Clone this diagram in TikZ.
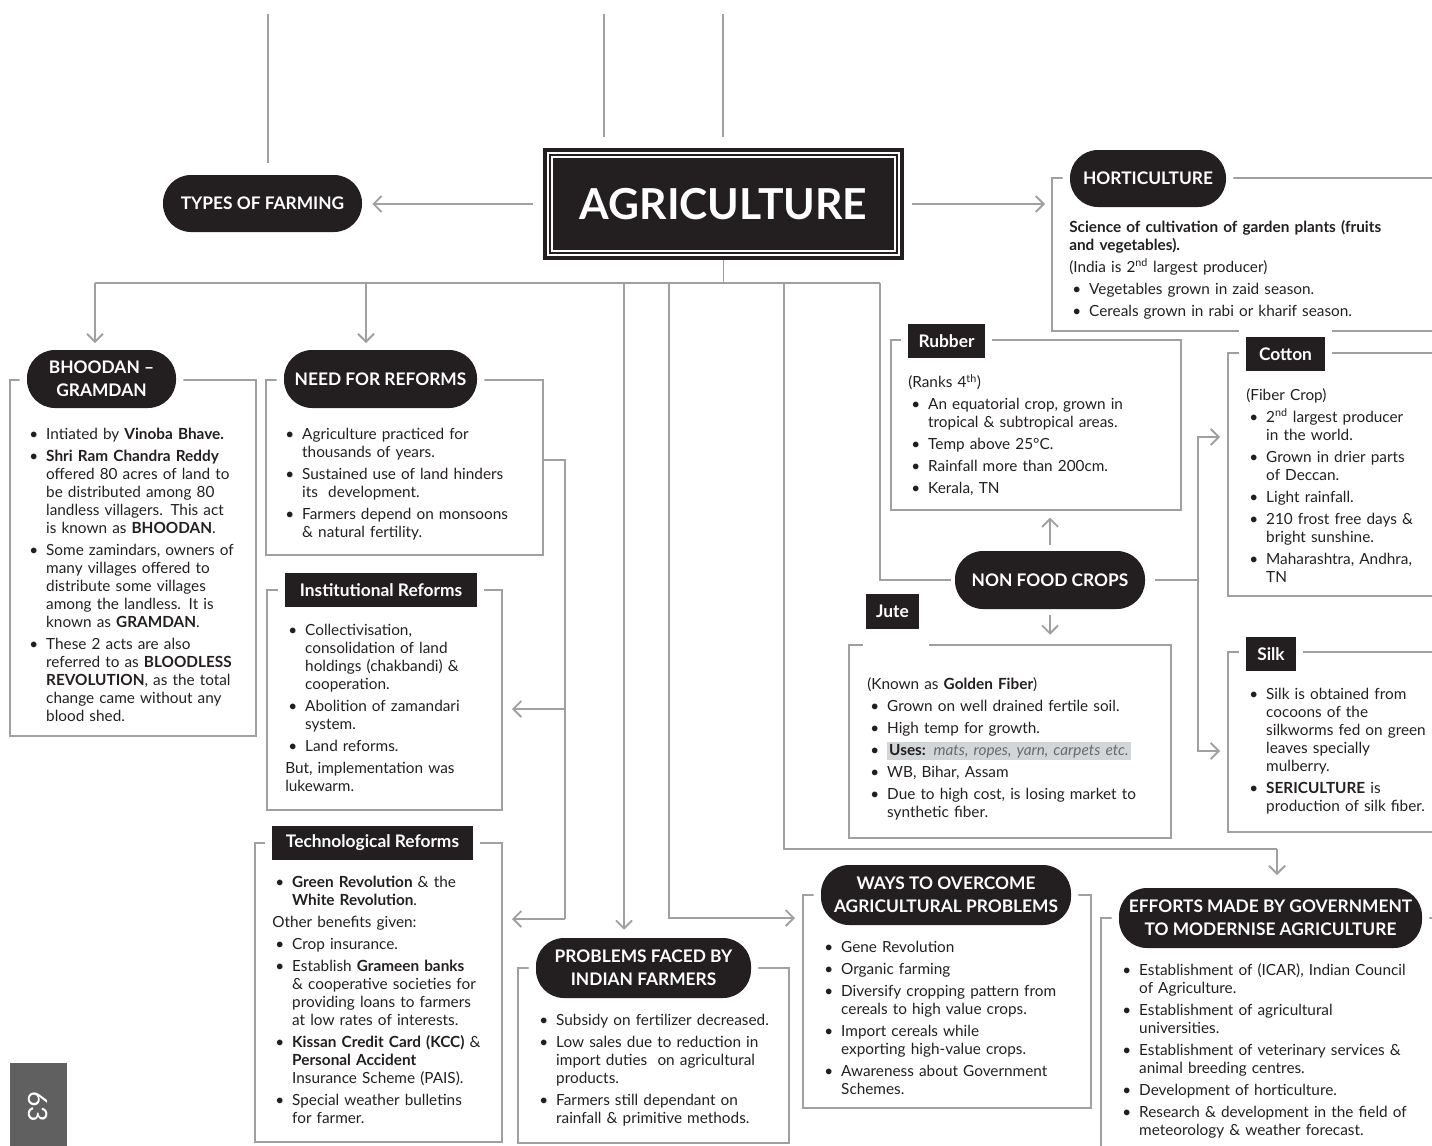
\documentclass[tikz,border=0pt]{standalone}
\usepackage{fontspec}
\setmainfont{Lato}
\usepackage{xcolor}
\usetikzlibrary{positioning}
\usetikzlibrary{fit}
\usetikzlibrary{arrows.meta}
\usetikzlibrary{calc}

\definecolor{inkblack}{RGB}{35,31,32}
\definecolor{linegray}{RGB}{160,160,160}
\definecolor{hlgray}{RGB}{211,214,217}
\definecolor{usegray}{RGB}{105,106,110}
\definecolor{pagegray}{RGB}{96,96,96}

\newcommand{\bulx}{\hangindent=1.3em\hangafter=1\noindent\makebox[1.3em][l]{\hspace{0.2em}\textbullet}}
\newcommand{\bul}{\par\bulx}
\newcommand{\plainline}{\par\noindent}

\tikzset{
  conn/.style={draw=linegray, line width=1.4pt},
  connarrow/.style={conn, -{Straight Barb[length=6pt,width=12pt]}},
  boxframe/.style={draw=linegray, line width=1.4pt, inner sep=0pt},
  pilltitle/.style={fill=inkblack, inner sep=0pt, rounded corners=21pt, preaction={draw=white, line width=11pt}},
  blacktag/.style={fill=inkblack, inner sep=0pt, preaction={draw=white, line width=11pt}},
  titletext/.style={text=white, inner sep=0pt, align=center, font=\bfseries\fontsize{13}{17}\selectfont},
  boxtext/.style={anchor=north west, inner sep=0pt, text=inkblack, align=left, text width=330pt,
    font=\fontsize{11.5}{13.5}\selectfont\setlength{\parskip}{3pt}},
}

\begin{document}
\begin{tikzpicture}[x=0.75pt,y=0.75pt,yscale=-1,xscale=1]
\useasboundingbox (0,0) rectangle (1432,1146);
\clip (0,0) rectangle (1432,1146);

%Frames
\node[boxframe, fit={(1052,178) (1445,331)}] (hortibox) {};
\node[boxframe, fit={(10,380) (256,736)}] (bhbox) {};
\node[boxframe, fit={(266,380) (543,555)}] (needbox) {};
\node[boxframe, fit={(267,590) (502,810)}] (instbox) {};
\node[boxframe, fit={(255,843) (502,1142)}] (techbox) {};
\node[boxframe, fit={(518,968) (789,1143)}] (probbox) {};
\node[boxframe, fit={(803,895) (1091,1108)}] (waysbox) {};
\node[boxframe, fit={(1101,918) (1445,1170)}] (effbox) {};
\node[boxframe, fit={(891,340) (1181,510)}] (rubbox) {};
\node[boxframe, fit={(1228,353) (1445,596)}] (cotbox) {};
\node[boxframe, fit={(849,645) (1171,838)}] (jutebox) {};
\node[boxframe, fit={(1228,652) (1445,832)}] (silkbox) {};
\draw[white, line width=3pt] (863,645) -- (929,645);

%Main box
\node[fill=inkblack, inner sep=0pt, fit={(543,148) (904,260)},
  label={[titletext, font=\bfseries\fontsize{32}{36}\selectfont]center:AGRICULTURE}] (agri) {};
\draw[white, line width=0.8pt] (548,153) rectangle (899,255);
\draw[white, line width=0.8pt] (552,157) rectangle (895,251);

%Titles
\node[pilltitle, fit={(163,175) (362,232)}, label={[titletext]center:TYPES OF FARMING}] (types) {};
\node[pilltitle, fit={(1070,150) (1226,207)}, label={[titletext]center:HORTICULTURE}] (horti) {};
\node[pilltitle, fit={(27,350) (176,408)}, label={[titletext]center:{BHOODAN –\\GRAMDAN}}] (bhtitle) {};
\node[pilltitle, fit={(284,350) (477,408)}, label={[titletext]center:NEED FOR REFORMS}] (needtitle) {};
\node[pilltitle, fit={(955,551) (1145,609)}, label={[titletext]center:NON FOOD CROPS}] (nfc) {};
\node[pilltitle, fit={(536,938) (751,998)}, label={[titletext]center:{PROBLEMS FACED BY\\INDIAN FARMERS}}] (probtitle) {};
\node[pilltitle, fit={(821,865) (1071,925)}, label={[titletext]center:{WAYS TO OVERCOME\\AGRICULTURAL PROBLEMS}}] (waystitle) {};
\node[pilltitle, fit={(1119,888) (1422,948)}, label={[titletext]center:{EFFORTS MADE BY GOVERNMENT\\TO MODERNISE AGRICULTURE}}] (efftitle) {};
\node[blacktag, fit={(908,324) (985,358)}, label={[titletext]center:Rubber}] (rubtag) {};
\node[blacktag, fit={(1246,337) (1325,371)}, label={[titletext]center:Cotton}] (cottag) {};
\node[blacktag, fit={(866,594) (919,629)}, label={[titletext]center:Jute}] (jutetag) {};
\node[blacktag, fit={(1246,637) (1296,671)}, label={[titletext]center:Silk}] (silktag) {};
\node[blacktag, fit={(285,573) (477,607)}, label={[titletext]center:Institutional Reforms}] (insttag) {};
\node[blacktag, fit={(272,826) (473,860)}, label={[titletext]center:Technological Reforms}] (techtag) {};

% Text Node
\node[boxtext] (hortitext) at (1069,220) {\textbf{Science of cultivation of garden plants (fruits\newline and vegetables).}
\plainline (India is 2\textsuperscript{nd} largest producer)
\bul Vegetables grown in zaid season.
\bul Cereals grown in rabi or kharif season.\par};
% Text Node
\node[boxtext] (bhtext) at (26,428) {\bulx Intiated by \textbf{Vinoba Bhave.}
\bul \textbf{Shri Ram Chandra Reddy}\newline offered 80 acres of land to\newline be distributed among 80\newline landless villagers. This act\newline is known as \textbf{BHOODAN}.
\bul Some zamindars, owners of\newline many villages offered to\newline distribute some villages\newline among the landless. It is\newline known as \textbf{GRAMDAN}.
\bul These 2 acts are also\newline referred to as \textbf{BLOODLESS}\newline \textbf{REVOLUTION}, as the total\newline change came without any\newline blood shed.\par};
% Text Node
\node[boxtext] (needtext) at (282,428) {\bulx Agriculture practiced for\newline thousands of years.
\bul Sustained use of land hinders\newline its~ development.
\bul Farmers depend on monsoons\newline \& natural fertility.\par};
% Text Node
\node[boxtext] (insttext) at (285,624) {\bulx Collectivisation,\newline consolidation of land\newline holdings (chakbandi) \&\newline cooperation.
\bul Abolition of zamandari\newline system.
\bul Land reforms.
\plainline But, implementation was\newline lukewarm.\par};
% Text Node
\node[boxtext] (techtext) at (272,876) {\bulx \textbf{Green Revolution} \& the\newline \textbf{White Revolution}.
\plainline Other benefits given:
\bul Crop insurance.
\bul Establish \textbf{Grameen banks}\newline \& cooperative societies for\newline providing loans to farmers\newline at low rates of interests.
\bul \textbf{Kissan Credit Card (KCC)} \&\newline \textbf{Personal Accident}\newline Insurance Scheme (PAIS).
\bul Special weather bulletins\newline for farmer.\par};
% Text Node
\node[boxtext] (probtext) at (536,1014) {\bulx Subsidy on fertilizer decreased.
\bul Low sales due to reduction in\newline import duties~ on agricultural\newline products.
\bul Farmers still dependant on\newline rainfall \& primitive methods.\par};
% Text Node
\node[boxtext] (waystext) at (821,941) {\bulx Gene Revolution
\bul Organic farming
\bul Diversify cropping pattern from\newline cereals to high value crops.
\bul Import cereals while\newline exporting high-value crops.
\bul Awareness about Government\newline Schemes.\par};
% Text Node
\node[boxtext] (efftext) at (1119,963) {\bulx Establishment of (ICAR), Indian Council\newline of Agriculture.
\bul Establishment of agricultural\newline universities.
\bul Establishment of veterinary services \&\newline animal breeding centres.
\bul Development of horticulture.
\bul Research \& development in the field of\newline meteorology \& weather forecast.\par};
% Text Node
\node[boxtext] (rubtext) at (908,374) {(Ranks 4\textsuperscript{th})
\bul An equatorial crop, grown in\newline tropical \& subtropical areas.
\bul Temp above 25°C.
\bul Rainfall more than 200cm.
\bul Kerala, TN\par};
% Text Node
\node[boxtext] (cottext) at (1246,388) {(Fiber Crop)
\bul 2\textsuperscript{nd} largest producer\newline in the world.
\bul Grown in drier parts\newline of Deccan.
\bul Light rainfall.
\bul 210 frost free days \&\newline bright sunshine.
\bul Maharashtra, Andhra,\newline TN\par};
% Text Node
\node[boxtext] (jutetext) at (867,677) {(Known as \textbf{Golden Fiber})
\bul Grown on well drained fertile soil.
\bul High temp for growth.
\bul {\setlength{\fboxsep}{1.5pt}\colorbox{hlgray}{\textbf{Uses:} {\color{usegray}\itshape mats, ropes, yarn, carpets etc.}}}
\bul WB, Bihar, Assam
\bul Due to high cost, is losing market to\newline synthetic fiber.\par};
% Text Node
\node[boxtext] (silktext) at (1246,688) {\bulx Silk is obtained from\newline cocoons of the\newline silkworms fed on green\newline leaves specially\newline mulberry.
\bul \textbf{SERICULTURE} is\newline production of silk fiber.\par};

%Page number
\node[fill=pagegray, inner sep=0pt, fit={(10,1063) (67,1150)}] (pagebox) {};
\node[text=white, rotate=-90, font=\fontsize{20}{20}\selectfont] (pagenum) at (pagebox.center) {63};

%Straight Lines
\coordinate (topA) at (268,14);
\coordinate (topB) at (604,14);
\coordinate (topC) at (723,14);
\draw[conn, shorten >=9pt] (topA) -- (topA |- types.north);
\draw[conn, shorten >=8pt] (topB) -- (topB |- agri.north);
\draw[conn, shorten >=8pt] (topC) -- (topC |- agri.north);
\draw[connarrow, shorten <=7.5pt, shorten >=7.5pt] (agri.west) -- (agri.west -| types.east);
\draw[connarrow, shorten <=6pt, shorten >=4.5pt] (agri.east) -- (agri.east -| hortibox.west);

%Bus below the main box
\coordinate (busW) at (95,283);
\coordinate (busN) at (366,283);
\coordinate (busP) at (624,283);
\coordinate (busQ) at (669,283);
\coordinate (busR) at (784,283);
\coordinate (busE) at (880,283);
\draw[conn] (agri.south) -- (agri.south |- busW);
\draw[conn] (busW) -- (busE);
\draw[connarrow, shorten >=5pt] (busW) -- (busW |- bhtitle.north);
\draw[connarrow, shorten >=5pt] (busN) -- (busN |- needtitle.north);
\draw[connarrow, shorten >=6pt] (busP) -- (busP |- probtitle.north);
\coordinate (waysin) at (803,918);
\draw[connarrow, shorten >=6pt] (busQ) |- (waysin);
\coordinate (effturn) at (1277,849);
\draw[conn] (busR) |- (effturn);
\draw[connarrow, shorten >=9.5pt] (effturn) -- (effturn |- efftitle.north);
\draw[conn, shorten >=3pt] (busE) |- (nfc.west);

%Reforms
\coordinate (refbus) at (565,460);
\coordinate (instin) at (502,709);
\coordinate (techin) at (502,919);
\draw[conn] (needbox.east |- refbus) -- (refbus) -- (refbus |- techin);
\draw[connarrow, shorten >=7.5pt] (refbus |- instin) -- (instin);
\draw[connarrow, shorten >=7.5pt] (refbus |- techin) -- (techin);

%Non food crops
\coordinate (fibus) at (1198,580);
\coordinate (cotin) at (1228,437);
\coordinate (silkin) at (1228,751);
\draw[connarrow, shorten <=4.5pt, shorten >=5pt] (nfc.north) -- (nfc.north |- rubbox.south);
\draw[connarrow, shorten <=4.5pt, shorten >=7pt] (nfc.south) -- (nfc.south |- jutebox.north);
\draw[conn, shorten <=7.5pt] (nfc.east) -- (fibus);
\draw[connarrow, shorten >=6pt] (fibus) |- (cotin);
\draw[connarrow, shorten >=6pt] (fibus) |- (silkin);

\end{tikzpicture}
\end{document}
